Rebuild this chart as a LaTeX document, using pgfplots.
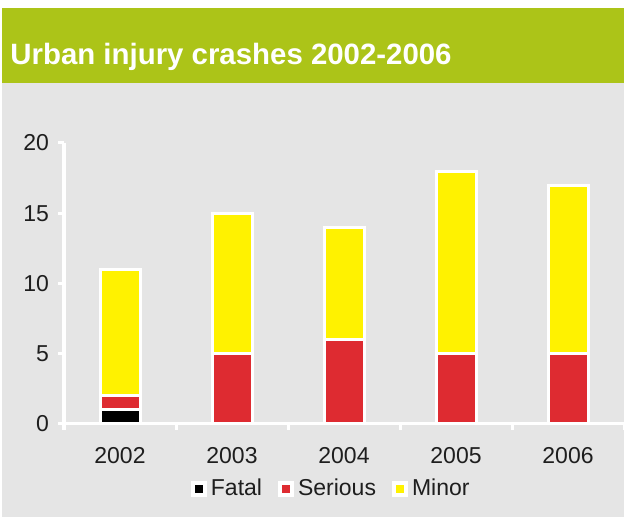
\documentclass[border=0pt]{standalone}
\usepackage{pgfplots}
\pgfplotsset{compat=1.18}
\usepackage{fontspec}
\setmainfont{Liberation Sans}
\definecolor{bggrey}{RGB}{229,229,229}
\definecolor{titlegreen}{RGB}{172,196,24}
\definecolor{fatalc}{RGB}{0,0,0}
\definecolor{seriousc}{RGB}{222,43,49}
\definecolor{minorc}{RGB}{255,242,0}
\definecolor{txt}{RGB}{30,30,30}
\begin{document}
\begin{tikzpicture}
\path[use as bounding box, fill=white] (0,0) rectangle (312pt,258.5pt);
\fill[bggrey] (1pt,0) rectangle (312pt,217pt);
\fill[titlegreen] (1pt,217pt) rectangle (312pt,254.5pt);
\node[anchor=base west, inner sep=0, text=white, font=\fontsize{14.7}{16}\selectfont\bfseries] at (5pt,226pt) {Urban injury crashes 2002-2006};
\begin{axis}[
  at={(32pt,46.5pt)}, anchor=south west,
  scale only axis, width=280pt, height=140.5pt,
  xmin=-0.5, xmax=4.5, ymin=0, ymax=20,
  axis x line*=bottom, axis y line*=left,
  axis line style={white, line width=1.5pt},
  ybar stacked, bar width=20pt,
  xtick={0,...,4}, xticklabels={2002,2003,2004,2005,2006},
  minor xtick={-0.5,0.5,...,4.5},
  ytick={0,5,...,20},
  tick align=outside,
  major tick length=3pt, minor tick length=3pt,
  major x tick style={draw=none},
  minor x tick style={white, line width=1.5pt},
  ytick style={white, line width=1.5pt},
  /pgf/number format/assume math mode=true,
  tick label style={font=\fontsize{11.5}{13}\selectfont, text=txt},
  xticklabel style={yshift=-5pt},
  yticklabel style={xshift=-1pt},
  legend style={at={(rel axis cs:0.479,-0.231)}, anchor=center, draw=none, fill=none,
    font=\fontsize{11.5}{13}\selectfont, text=txt,
    /tikz/every even column/.append style={column sep=6pt}},
  legend columns=3,
  legend image code/.code={\path[#1, draw=white, line width=2.2pt] (0pt,-2.9pt) rectangle (5.8pt,2.9pt);},
]
\addplot[fill=fatalc, draw=white, line width=1.5pt] coordinates {(0,1) (1,0) (2,0) (3,0) (4,0)};
\addplot[fill=seriousc, draw=white, line width=1.5pt] coordinates {(0,1) (1,5) (2,6) (3,5) (4,5)};
\addplot[fill=minorc, draw=white, line width=1.5pt] coordinates {(0,9) (1,10) (2,8) (3,13) (4,12)};
\legend{Fatal,Serious,Minor}
\end{axis}
\end{tikzpicture}
\end{document}
